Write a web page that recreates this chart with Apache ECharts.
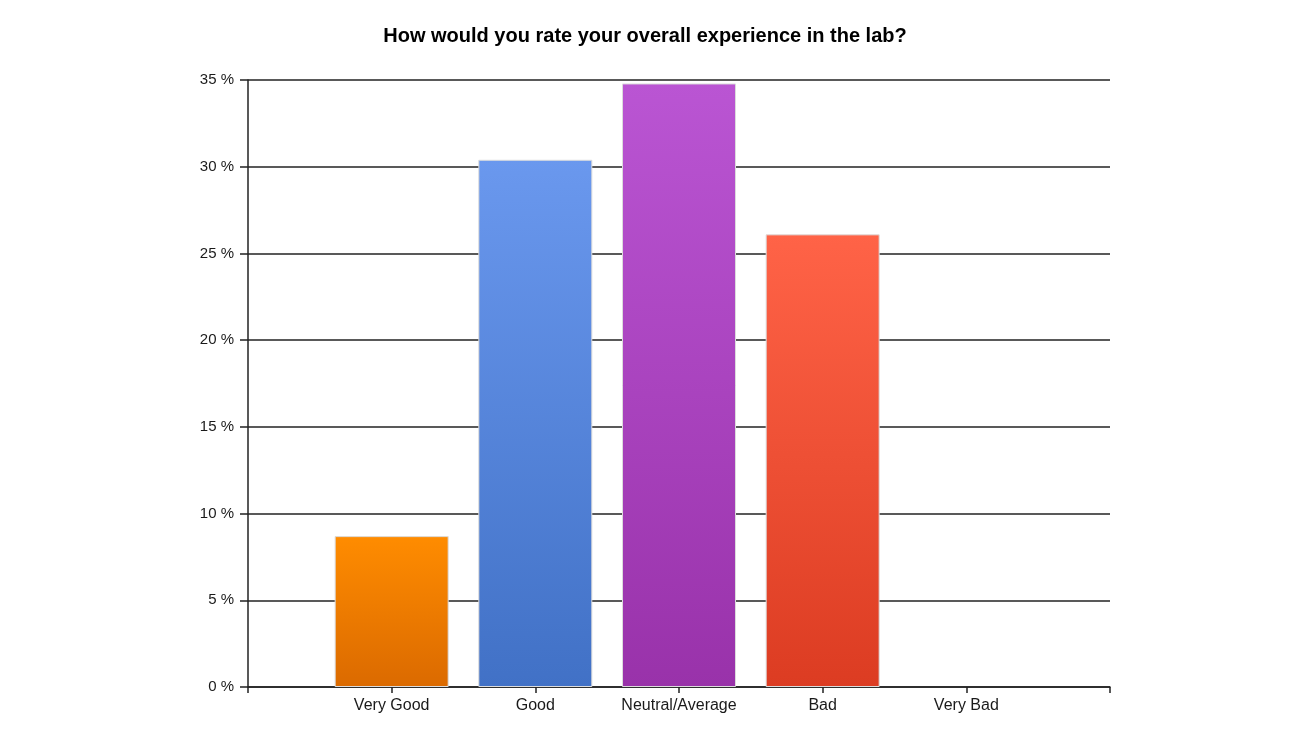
<!DOCTYPE html>
<html>
<head>
<meta charset="utf-8">
<script src="https://cdn.jsdelivr.net/npm/echarts@6/dist/echarts.min.js"></script>
<style>
html,body{margin:0;padding:0;background:#fff;}
#chart{width:1290px;height:750px;}
</style>
</head>
<body>
<div id="chart"></div>
<script>
var titleText = 'How would you rate your overall experience in the lab?';
var categories = ['', 'Very Good', 'Good', 'Neutral/Average', 'Bad', 'Very Bad', ''];
var percentValues = [null, 8.7, 30.4, 34.8, 26.1, 0, null];
var yTicks = [0, 5, 10, 15, 20, 25, 30, 35];

var topColors = [null, '#FF8C00', '#6A98EE', '#BA55D3', '#FF6347', '#FF8C00', null];
var bottomColors = [null, '#DB6A00', '#4171C6', '#9932AA', '#DC3C22', '#DB6A00', null];

var seriesData = percentValues.map(function (v, i) {
  if (v === null) return null;
  return {
    value: v,
    itemStyle: {
      color: new echarts.graphic.LinearGradient(0, 0, 0, 1, [
        { offset: 0, color: topColors[i] },
        { offset: 1, color: bottomColors[i] }
      ]),
      borderColor: '#dcdcdc',
      borderWidth: v === 0 ? 0 : 1
    }
  };
});

var chart = echarts.init(document.getElementById('chart'), null, { renderer: 'canvas' });
chart.setOption({
  animation: false,
  backgroundColor: '#fff',
  title: {
    text: titleText,
    left: 'center',
    top: 21,
    textStyle: { fontFamily: 'Liberation Sans, Arial, sans-serif', fontSize: 20, fontWeight: 'bold', color: '#000' }
  },
  grid: { left: 248, right: 180, top: 80, bottom: 63, containLabel: false },
  xAxis: {
    type: 'category',
    data: categories,
    boundaryGap: false,
    axisLine: { show: true, lineStyle: { color: '#222', width: 1.5 } },
    axisTick: { show: true, length: 6, interval: 0, lineStyle: { color: '#222', width: 1.5 } },
    axisLabel: {
      interval: 0,
      margin: 11,
      fontFamily: 'Liberation Sans, Arial, sans-serif',
      fontSize: 16,
      color: '#1a1a1a'
    },
    splitLine: { show: false }
  },
  yAxis: {
    type: 'value',
    min: yTicks[0],
    max: yTicks[yTicks.length - 1],
    interval: yTicks[1] - yTicks[0],
    axisLine: { show: true, lineStyle: { color: '#222', width: 1.5 } },
    axisTick: { show: true, length: 8, lineStyle: { color: '#222', width: 1.5 } },
    axisLabel: {
      formatter: '{value} %',
      margin: 14,
      fontFamily: 'Liberation Sans, Arial, sans-serif',
      fontSize: 15,
      color: '#1a1a1a'
    },
    splitLine: { show: true, lineStyle: { color: '#222', width: 1.5 } }
  },
  series: [{
    type: 'bar',
    data: seriesData,
    barWidth: 114,
    z: 3
  }]
});
</script>
</body>
</html>
